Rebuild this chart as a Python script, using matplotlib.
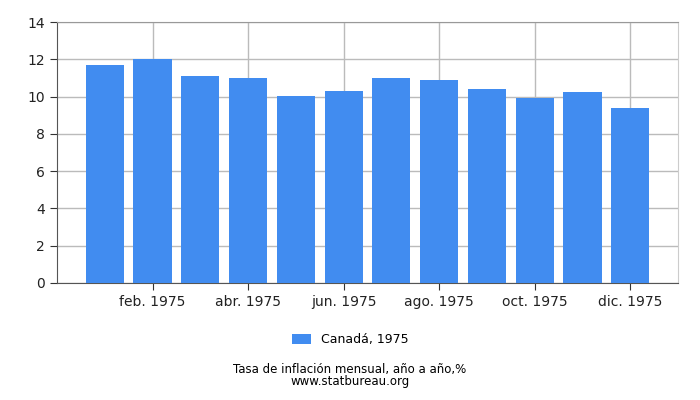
import matplotlib
matplotlib.use('Agg')
import matplotlib.pyplot as plt
import numpy as np

# datos
meses = ['ene. 1975', 'feb. 1975', 'mar. 1975', 'abr. 1975', 'may. 1975', 'jun. 1975',
         'jul. 1975', 'ago. 1975', 'sep. 1975', 'oct. 1975', 'nov. 1975', 'dic. 1975']
inflacion = [11.7, 12.0, 11.1, 11.0, 10.05, 10.3, 11.0, 10.9, 10.4, 9.95, 10.25, 9.4]
serie = 'Canadá, 1975'
titulo = 'Tasa de inflación mensual, año a año,%'
fuente = 'www.statbureau.org'

plt.rcParams['font.family'] = ['DejaVu Sans']

fig = plt.figure(figsize=(7, 4), dpi=100)
ax = fig.add_axes([57 / 700, 1 - 283 / 400, (678 - 57) / 700, (283 - 22) / 400])

x = np.arange(len(meses))
ax.bar(x, inflacion, width=0.8, color='#418cf0', label=serie, zorder=3)

ax.set_xlim(-1, 12)
ax.set_ylim(0, 14)
ax.set_yticks(range(0, 15, 2))
ax.set_xticks(x[1::2])
ax.set_xticklabels(meses[1::2])
ax.grid(True, color='#bbbbbb', linewidth=1, zorder=0)

ax.spines['top'].set_color('#999999')
ax.spines['right'].set_color('#cccccc')
for s in ['left', 'bottom']:
    ax.spines[s].set_color('#555555')
ax.tick_params(axis='both', labelsize=10, colors='#222222', length=5, color='#333333')

fig.legend(loc='center', bbox_to_anchor=(0.5, 1 - 340 / 400), frameon=False,
           fontsize=9, handlelength=1.5, handleheight=0.8)
fig.text(0.5, 1 - 370 / 400, titulo, ha='center', va='center', fontsize=8.5)
fig.text(0.5, 1 - 382 / 400, fuente, ha='center', va='center', fontsize=8.5)

fig.savefig('out.png', dpi=100)
